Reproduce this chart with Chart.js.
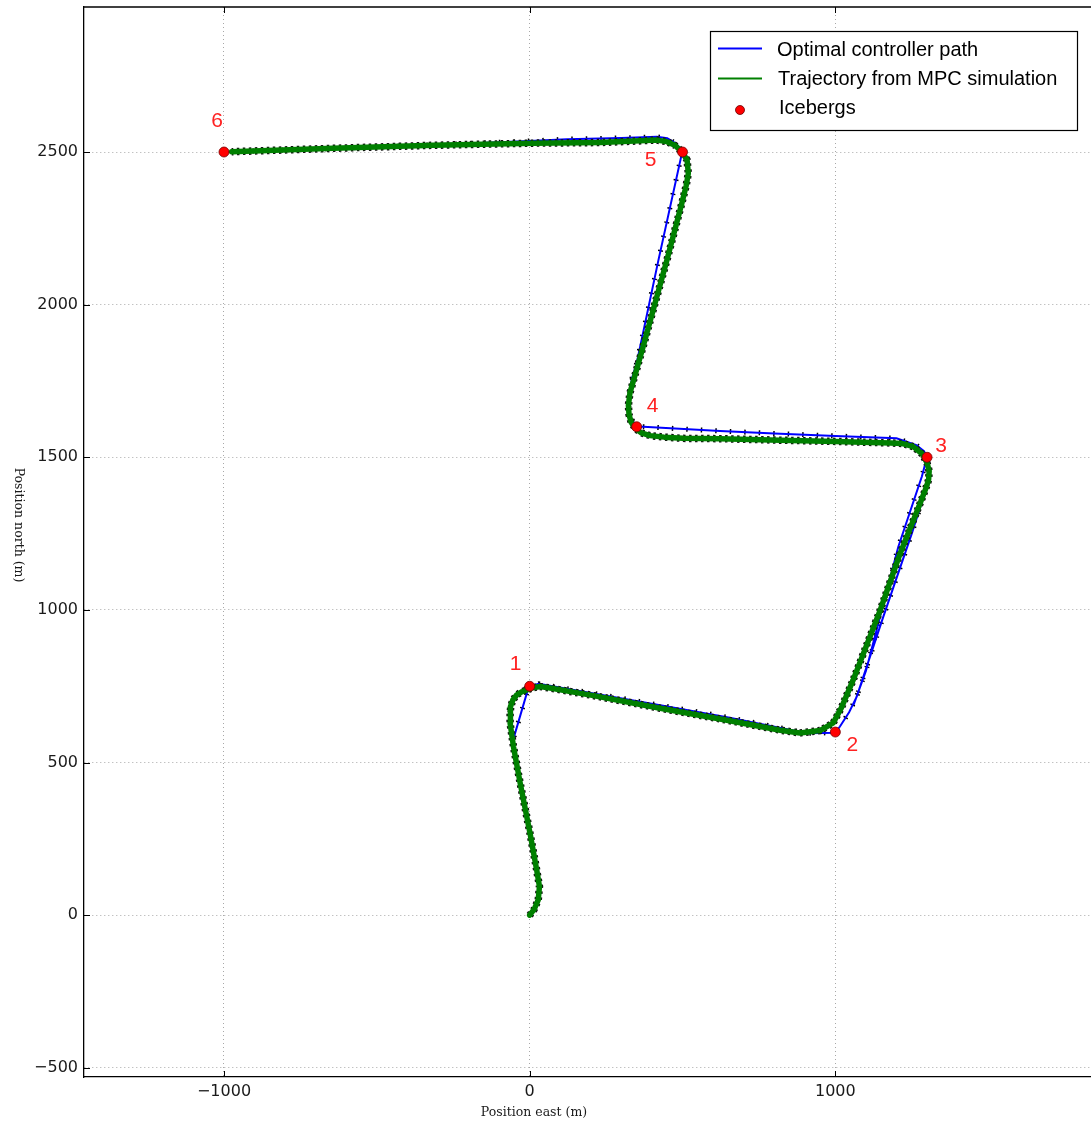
<!DOCTYPE html>
<html>
<head>
<meta charset="utf-8">
<script src="https://cdn.jsdelivr.net/npm/chart.js@4.4.0/dist/chart.umd.min.js"></script>
<style>
  html, body { margin: 0; padding: 0; background: #fff; overflow: hidden; }
  #wrap { width: 1091px; height: 1126px; overflow: hidden; }
</style>
</head>
<body>
<div id="wrap"><canvas id="chart" width="1097" height="1126"></canvas></div>
<script>
// Icebergs (waypoints)
const icebergX = [0, 1000, 1300, 350, 500, -1000];
const icebergY = [750, 600, 1500, 1600, 2500, 2500];
const icebergLabels = ['1', '2', '3', '4', '5', '6'];

// Optimal controller path (null = break between planned pieces)
const blueX = [-51, -5, 0, null,
  -65, -60, -45, -22, 0, 30, 200, 427, 650, 907, 1000, 1015, 1045, 1070, 1157, 1250, 1299, 1305, 1300, null,
  1300, 1283, 1206, 1100, 1060, null,
  1300, 1290, 1265, 1200, 1000, 800, 623, 372, 350, 330, 322, 335, 350, 420, 498, 500,
  480, 450, 416, 300, 122, 0, -300, -600, -1000];
const blueY = [585, 742, 750, null,
  665, 690, 718, 738, 750, 758, 728, 688, 648, 596, 598, 618, 665, 716, 978, 1250, 1404, 1480, 1500, null,
  1500, 1437, 1207, 800, 690, null,
  1500, 1520, 1540, 1562, 1570, 1578, 1586, 1600, 1600, 1630, 1680, 1760, 1808, 2140, 2496, 2500,
  2527, 2545, 2550, 2546, 2542, 2536, 2524, 2513, 2500];

// Trajectory from MPC simulation
const greenX = [0, 15, 28, 32, 23, 1, -31, -53, -64, -64, -62, -55, -42, -25, -9, 10, 34, 67,
  200, 427, 650, 820, 884, 950, 993, 1020, 1058, 1147, 1210, 1278, 1295, 1305, 1307, 1300, 1285, 1255, 1220, 1180,
  1000, 820, 623, 502, 440, 394, 365, 345, 332, 325, 323, 328,
  371, 449, 498, 512, 519, 515, 498, 475, 449, 416,
  230, 11, -316, -643, -975];
const greenY = [0, 20, 50, 94, 148, 269, 432, 552, 629, 660, 683, 705, 722, 732, 738, 745, 749, 744,
  721, 678, 638, 606, 597, 605, 630, 680, 770, 1000, 1180, 1351, 1395, 1426, 1455, 1481, 1510, 1535, 1545, 1547,
  1552, 1556, 1561, 1562, 1566, 1571, 1580, 1595, 1615, 1640, 1670, 1711,
  1862, 2146, 2333, 2390, 2430, 2474, 2501, 2522, 2534, 2539,
  2531, 2529, 2522, 2512, 2501];

// Axis ranges and ticks
const xMin = -1458, xMax = 1837;
const yMin = -530, yMax = 2975;
const xTicks = [-1000, 0, 1000];
const yTicks = [-500, 0, 500, 1000, 1500, 2000, 2500];

const toPts = (xs, ys) => xs.map((x, i) => ({ x: x, y: ys[i] }));
const bluePts = toPts(blueX, blueY);
const greenPts = toPts(greenX, greenY);
const icebergPts = toPts(icebergX, icebergY);

const BLUE = '#0000ff', GREEN = '#008000', RED = '#ff0000';
const minus = v => String(v).replace('-', '\u2212');

// label offsets in pixels, per iceberg
const labelOffsets = [[-14, -22], [17, 13], [14, -11], [16, -21], [-32, 8], [-7, -31]];

const decor = {
  id: 'decor',
  afterDatasetsDraw(chart) {
    const { ctx, scales: { x, y } } = chart;
    ctx.save();
    ctx.fillStyle = '#f22';
    ctx.font = '21px "Liberation Sans", Arial, sans-serif';
    ctx.textAlign = 'center';
    ctx.textBaseline = 'middle';
    icebergLabels.forEach((t, i) => {
      const px = x.getPixelForValue(icebergX[i]) + labelOffsets[i][0];
      const py = y.getPixelForValue(icebergY[i]) + labelOffsets[i][1];
      ctx.fillText(t, px, py);
    });
    ctx.restore();
  },
  afterDraw(chart) {
    const { ctx, chartArea: a, scales: { x, y } } = chart;
    ctx.save();
    // top frame
    ctx.strokeStyle = '#000';
    ctx.lineWidth = 1.3;
    ctx.beginPath();
    ctx.moveTo(a.left, a.top);
    ctx.lineTo(a.right, a.top);
    ctx.stroke();
    // inward ticks
    ctx.lineWidth = 1;
    ctx.beginPath();
    xTicks.forEach(v => {
      const px = Math.round(x.getPixelForValue(v)) + 0.5;
      ctx.moveTo(px, a.bottom); ctx.lineTo(px, a.bottom - 6);
      ctx.moveTo(px, a.top); ctx.lineTo(px, a.top + 6);
    });
    yTicks.forEach(v => {
      const py = Math.round(y.getPixelForValue(v)) + 0.5;
      ctx.moveTo(a.left, py); ctx.lineTo(a.left + 6, py);
    });
    ctx.stroke();

    // legend
    ctx.fillStyle = '#fff';
    ctx.fillRect(710.5, 31.5, 367, 99);
    ctx.strokeStyle = '#000';
    ctx.lineWidth = 1.2;
    ctx.strokeRect(710.5, 31.5, 367, 99);
    ctx.lineWidth = 2;
    ctx.strokeStyle = BLUE;
    ctx.beginPath(); ctx.moveTo(718, 48.5); ctx.lineTo(762, 48.5); ctx.stroke();
    ctx.strokeStyle = GREEN;
    ctx.beginPath(); ctx.moveTo(718, 78.5); ctx.lineTo(762, 78.5); ctx.stroke();
    ctx.fillStyle = RED;
    ctx.strokeStyle = '#600';
    ctx.lineWidth = 0.8;
    ctx.beginPath(); ctx.arc(740, 110, 4.5, 0, Math.PI * 2); ctx.fill(); ctx.stroke();
    ctx.fillStyle = '#000';
    ctx.font = '20px "Liberation Sans", Arial, sans-serif';
    ctx.textAlign = 'left';
    ctx.textBaseline = 'middle';
    ctx.fillText('Optimal controller path', 777, 50);
    ctx.fillText('Trajectory from MPC simulation', 778, 79);
    ctx.fillText('Icebergs', 779, 108);

    // axis titles
    ctx.fillStyle = '#1a1a1a';
    ctx.font = '12.5px "DejaVu Serif", serif';
    ctx.textAlign = 'center';
    ctx.fillText('Position east (m)', 534, 1113);
    ctx.translate(18, 525);
    ctx.rotate(Math.PI / 2);
    ctx.fillText('Position north (m)', 0, 0);
    ctx.restore();
  }
};

new Chart(document.getElementById('chart'), {
  type: 'line',
  data: {
    datasets: [
      {
        label: 'Optimal controller path',
        data: bluePts,
        borderColor: BLUE,
        borderWidth: 2,
        pointRadius: 0,
        spanGaps: false,
        order: 4
      },
      {
        label: 'Trajectory from MPC simulation',
        data: greenPts,
        borderColor: GREEN,
        borderWidth: 5.5,
        pointRadius: 0,
        borderJoinStyle: 'round',
        borderCapStyle: 'round',
        order: 1
      },
      {
        label: 'Icebergs',
        data: icebergPts,
        showLine: false,
        pointRadius: 5,
        pointBackgroundColor: RED,
        pointBorderColor: '#700',
        pointBorderWidth: 0.8,
        order: 0
      },
      {
        // black sample marks under the blue path
        label: 'blue marks',
        data: bluePts,
        borderColor: '#000',
        borderWidth: 5,
        borderDash: [1.5, 13],
        pointRadius: 0,
        spanGaps: false,
        order: 5
      },
      {
        // black sample marks under the green trajectory
        label: 'green marks',
        data: greenPts,
        borderColor: '#111',
        borderWidth: 7.5,
        borderDash: [2.5, 3.5],
        pointRadius: 0,
        order: 2
      }
    ]
  },
  options: {
    responsive: false,
    animation: false,
    devicePixelRatio: 1,
    layout: { padding: { top: 7, right: 0, left: 0, bottom: 0 } },
    plugins: {
      legend: { display: false },
      tooltip: { enabled: false }
    },
    scales: {
      x: {
        type: 'linear',
        min: xMin,
        max: xMax,
        afterFit(s) { s.height = 49; s.paddingLeft = 0; s.paddingRight = 0; },
        afterBuildTicks(s) { s.ticks = xTicks.map(v => ({ value: v })); },
        ticks: {
          padding: 5,
          color: '#1a1a1a',
          font: { family: '"DejaVu Sans", sans-serif', size: 16 },
          callback: v => minus(v),
          maxRotation: 0
        },
        grid: { color: '#a8a8a8', lineWidth: 1, drawTicks: false },
        border: { color: '#000', width: 1.3, dash: [1, 3] }
      },
      y: {
        type: 'linear',
        min: yMin,
        max: yMax,
        afterFit(s) { s.width = 84; s.paddingTop = 0; s.paddingBottom = 0; },
        afterBuildTicks(s) { s.ticks = yTicks.map(v => ({ value: v })); },
        ticks: {
          padding: 6,
          color: '#1a1a1a',
          font: { family: '"DejaVu Sans", sans-serif', size: 16 },
          callback: v => minus(v)
        },
        grid: { color: '#a8a8a8', lineWidth: 1, drawTicks: false },
        border: { color: '#000', width: 1.3, dash: [1, 3] }
      }
    }
  },
  plugins: [decor]
});
</script>
</body>
</html>
